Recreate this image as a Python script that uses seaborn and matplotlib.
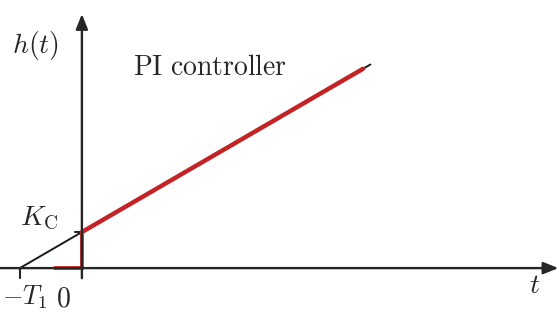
import numpy as np
import pandas as pd
import seaborn as sns
import matplotlib.pyplot as plt

# Parameters of the PI step response h(t) = K_C (1 + t / T_1)
K_C = 1.0
T_1 = 1.0

# Straight-line extension (black) and the actual response (red)
t_line = [-1.0, 4.65]
t_resp = [0.0, 4.53]
# Input step shown in red along the axes
t_step = [-0.44, 0.0, 0.0]
h_step = [0.0, 0.0, 1.0]

h_line = [K_C * (1 + t / T_1) for t in t_line]
h_resp = [K_C * (1 + t / T_1) for t in t_resp]

sns.set_theme(style="white")
plt.rcParams["mathtext.fontset"] = "cm"

fig = plt.figure(figsize=(5.59, 3.2), dpi=100)
ax = fig.add_axes([0, 0, 1, 1])
ax.set_xlim(-1.32, 7.69)
ax.set_ylim(-1.44, 7.44)
ax.axis("off")

red = "#c42326"
axis_col = "#262626"

# Axes with arrow heads
ax.annotate("", xy=(7.68, 0), xytext=(-1.35, 0),
            arrowprops=dict(arrowstyle="-|>,head_length=0.75,head_width=0.3",
                            color=axis_col, lw=1.7, shrinkA=0, shrinkB=0))
ax.annotate("", xy=(0, 7.05), xytext=(0, -0.28),
            arrowprops=dict(arrowstyle="-|>,head_length=0.75,head_width=0.3",
                            color=axis_col, lw=1.7, shrinkA=0, shrinkB=0))

# Tick marks at -T_1, 0 and K_C
ax.plot([-T_1, -T_1], [0, -0.28], color=axis_col, lw=1.5)
ax.plot([-0.11, 0], [K_C, K_C], color=axis_col, lw=1.5)

df_line = pd.DataFrame({"t": t_line, "h": h_line})
df_resp = pd.DataFrame({"t": t_resp, "h": h_resp})
sns.lineplot(data=df_line, x="t", y="h", color="#1a1a1a", lw=1.4, ax=ax)
sns.lineplot(data=df_resp, x="t", y="h", color=red, lw=3.2, ax=ax)
ax.plot(t_step, h_step, color="#d8302f", lw=2.8, solid_joinstyle="miter")

fs = 20
ax.text(-0.75, 6.19, r"$h(t)$", fontsize=fs, ha="center", va="center")
ax.text(2.06, 5.58, r"$\mathrm{PI\ controller}$", fontsize=fs, ha="center", va="center")
ax.text(-0.68, 1.39, r"$K_{\rm C}$", fontsize=fs, ha="center", va="center")
ax.text(-0.92, -0.8, r"$-T_1$", fontsize=fs - 1, ha="center", va="center")
ax.text(-0.3, -0.83, r"$0$", fontsize=fs, ha="center", va="center")
ax.text(7.3, -0.47, r"$t$", fontsize=fs, ha="center", va="center")

fig.savefig("out.png", dpi=100)
